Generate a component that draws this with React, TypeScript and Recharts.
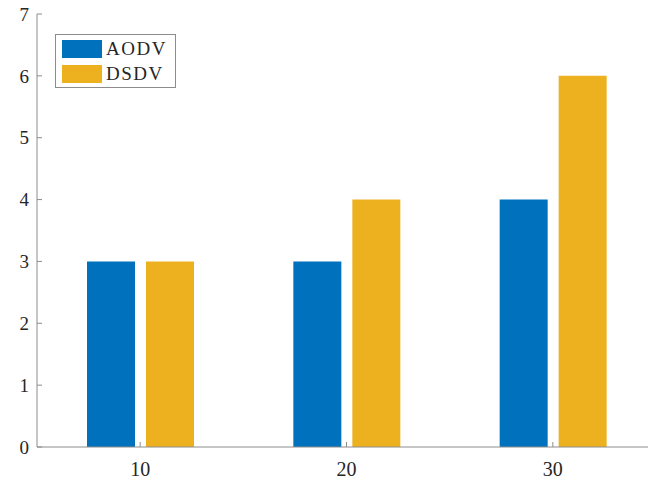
import React from "react";
import {
  BarChart,
  Bar,
  XAxis,
  YAxis,
  Legend,
} from "recharts";

// node counts on the x axis
const categories = ["10", "20", "30"];
const aodv = [3, 3, 4];
const dsdv = [3, 4, 6];
const yTicks = [0, 1, 2, 3, 4, 5, 6, 7];

const BLUE = "#0072BD";
const YELLOW = "#EDB120";
const AXIS = "#8c8c8c";
const TXT = "#262626";
const FONT = "'Liberation Serif', 'DejaVu Serif', serif";

const data = categories.map((c, i) => ({
  name: c,
  AODV: aodv[i],
  DSDV: dsdv[i],
}));

const LegendBox: React.FC = () => (
  <div
    style={{
      border: `1px solid ${AXIS}`,
      background: "#fff",
      padding: "5px 8px 4px 6px",
      fontFamily: FONT,
      fontSize: 19,
      color: TXT,
      lineHeight: "18px",
    }}
  >
    {[
      { label: "AODV", color: BLUE },
      { label: "DSDV", color: YELLOW },
    ].map((it, i) => (
      <div
        key={it.label}
        style={{
          display: "flex",
          alignItems: "center",
          marginTop: i === 0 ? 0 : 7,
        }}
      >
        <span
          style={{
            width: 40,
            height: 18,
            background: it.color,
            display: "inline-block",
            marginRight: 4,
          }}
        />
        <span style={{ letterSpacing: 1.5 }}>{it.label}</span>
      </div>
    ))}
  </div>
);

const App: React.FC = () => {
  return (
    <div
      style={{
        position: "absolute",
        left: 0,
        top: 0,
        width: 648,
        height: 480,
        overflow: "hidden",
        background: "#fff",
      }}
    >
      <BarChart
        width={660}
        height={480}
        data={data}
        margin={{ top: 14, right: 4, left: 0, bottom: 0 }}
        barGap={11}
      >
        <XAxis
          dataKey="name"
          height={33}
          stroke={AXIS}
          tickSize={-5}
          tickMargin={20}
          tick={{ fill: TXT, fontSize: 20, fontFamily: FONT }}
        />
        <XAxis
          xAxisId="top"
          dataKey="name"
          orientation="top"
          height={0}
          stroke={AXIS}
          tickSize={-5}
          tickFormatter={() => ""}
        />
        <YAxis
          width={37}
          domain={[0, 7]}
          ticks={yTicks}
          interval={0}
          stroke={AXIS}
          tickSize={-5}
          tickMargin={13}
          tick={{ fill: TXT, fontSize: 19, fontFamily: FONT }}
        />
        <Legend
          layout="vertical"
          align="center"
          verticalAlign="middle"
          content={() => <LegendBox />}
          wrapperStyle={{ left: 55, top: 34, width: "auto" }}
        />
        <Bar dataKey="AODV" fill={BLUE} barSize={48} isAnimationActive={false} />
        <Bar dataKey="DSDV" fill={YELLOW} barSize={48} isAnimationActive={false} />
      </BarChart>
    </div>
  );
};

export default App;
